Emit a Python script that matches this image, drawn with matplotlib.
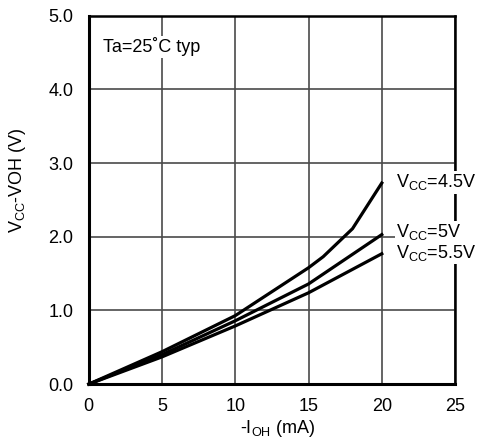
import matplotlib
matplotlib.use("Agg")
import matplotlib.pyplot as plt

plt.rcParams['font.family'] = ['Liberation Sans', 'DejaVu Sans']
plt.rcParams['mathtext.fontset'] = 'custom'
plt.rcParams['mathtext.rm'] = 'Liberation Sans'
plt.rcParams['mathtext.it'] = 'Liberation Sans'

# data
x_45 = [0, 5, 10, 15, 16, 18, 20]
y_45 = [0, 0.44, 0.93, 1.58, 1.73, 2.11, 2.73]
x_50 = [0, 5, 10, 15, 20]
y_50 = [0, 0.40, 0.86, 1.36, 2.03]
x_55 = [0, 5, 10, 15, 20]
y_55 = [0, 0.37, 0.79, 1.24, 1.77]
labels = ['V$_{\\mathrm{CC}}$=4.5V', 'V$_{\\mathrm{CC}}$=5V', 'V$_{\\mathrm{CC}}$=5.5V']
label_y = [2.74, 2.06, 1.78]
xticks = [0, 5, 10, 15, 20, 25]
yticks = [0.0, 1.0, 2.0, 3.0, 4.0, 5.0]

FS = 13

fig = plt.figure(figsize=(4.8, 4.4), dpi=100)
ax = fig.add_axes([0.185, 0.127, 0.763, 0.837])

for xs, ys in [(x_45, y_45), (x_50, y_50), (x_55, y_55)]:
    ax.plot(xs, ys, color='black', lw=2.3, solid_joinstyle='miter', zorder=3, clip_on=False)

ax.set_xlim(0, 25)
ax.set_ylim(0, 5)
ax.set_xticks(xticks)
ax.set_xticklabels([str(t) for t in xticks])
ax.set_yticks(yticks)
ax.set_yticklabels([f'{t:.1f}' for t in yticks])
ax.grid(True, color='#4a4a4a', lw=1.2, zorder=1)
ax.tick_params(length=0, labelsize=FS, colors='black')
ax.tick_params(axis='y', pad=11)
ax.tick_params(axis='x', pad=10)
for s in ['left', 'bottom']:
    ax.spines[s].set_linewidth(2.2)
for s in ['top', 'right']:
    ax.spines[s].set_linewidth(1.8)

for lab, ly in zip(labels, label_y):
    ax.text(21.0, ly, lab, fontsize=FS, va='center', ha='left', zorder=4,
            bbox=dict(facecolor='white', edgecolor='none', pad=1))

ax.text(0.95, 4.58, 'Ta=25˚C typ', fontsize=FS, va='center', ha='left', zorder=4,
        bbox=dict(facecolor='white', edgecolor='none', pad=1))

ax.set_xlabel('-I$_{\\mathrm{OH}}$ (mA)', fontsize=FS)
ax.set_ylabel('V$_{\\mathrm{CC}}$-VOH (V)', fontsize=FS)
ax.xaxis.label.set_va('center')
ax.yaxis.label.set_va('center')
ax.xaxis.set_label_coords(0.516, -0.12)
ax.yaxis.set_label_coords(-0.195, 0.554)

fig.savefig('out.png', dpi=100)
